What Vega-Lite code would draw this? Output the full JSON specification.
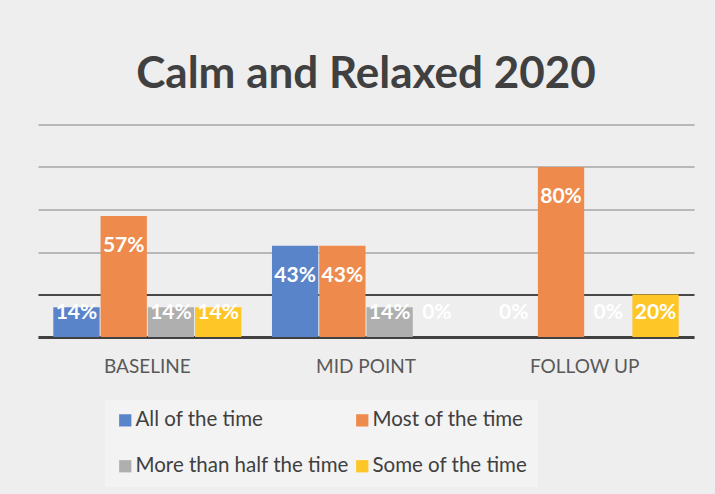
{
  "$schema": "https://vega.github.io/schema/vega-lite/v6.json",
  "width": 656,
  "height": 212.5,
  "autosize": {"type": "none"},
  "padding": {"left": 38, "top": 124.5, "right": 21, "bottom": 157},
  "background": "#eeeeee",
  "title": {
    "text": "Calm and Relaxed 2020",
    "font": "Lato",
    "fontSize": 44,
    "fontWeight": "bold",
    "color": "#404040",
    "anchor": "middle",
    "baseline": "alphabetic",
    "offset": -7
  },
  "config": {"view": {"stroke": null}},
  "data": {
    "values": [
      {"period": "BASELINE", "category": "All of the time", "value": 0.14},
      {"period": "BASELINE", "category": "Most of the time", "value": 0.57},
      {"period": "BASELINE", "category": "More than half the time", "value": 0.14},
      {"period": "BASELINE", "category": "Some of the time", "value": 0.14},
      {"period": "MID POINT", "category": "All of the time", "value": 0.43},
      {"period": "MID POINT", "category": "Most of the time", "value": 0.43},
      {"period": "MID POINT", "category": "More than half the time", "value": 0.14},
      {"period": "MID POINT", "category": "Some of the time", "value": 0},
      {"period": "FOLLOW UP", "category": "All of the time", "value": 0},
      {"period": "FOLLOW UP", "category": "Most of the time", "value": 0.8},
      {"period": "FOLLOW UP", "category": "More than half the time", "value": 0},
      {"period": "FOLLOW UP", "category": "Some of the time", "value": 0.2}
    ]
  },
  "encoding": {
    "x": {
      "field": "period",
      "type": "nominal",
      "sort": ["BASELINE", "MID POINT", "FOLLOW UP"],
      "scale": {"paddingInner": 0.14, "paddingOuter": 0.07},
      "axis": {
        "title": null,
        "labelAngle": 0,
        "labelFont": "Lato",
        "labelFontSize": 19,
        "labelColor": "#595959",
        "labelPadding": 20,
        "ticks": false,
        "tickSize": 0,
        "domainColor": "#404040",
        "domainWidth": 3
      }
    },
    "xOffset": {
      "field": "category",
      "type": "nominal",
      "sort": ["All of the time", "Most of the time", "More than half the time", "Some of the time"],
      "scale": {"paddingInner": 0.02}
    }
  },
  "layer": [
    {
      "mark": {"type": "bar"},
      "encoding": {
        "y": {
          "field": "value",
          "type": "quantitative",
          "scale": {"domain": [0, 1]},
          "axis": {
            "title": null,
            "labels": false,
            "ticks": false,
            "domain": false,
            "values": [0, 0.2, 0.4, 0.6, 0.8, 1],
            "gridWidth": 1.5,
            "gridColor": {"condition": {"test": "abs(datum.value - 0.2) < 0.01", "value": "#111111"}, "value": "#a6a6a6"}
          }
        },
        "color": {
          "field": "category",
          "type": "nominal",
          "sort": ["All of the time", "Most of the time", "More than half the time", "Some of the time"],
          "scale": {
            "domain": ["All of the time", "Most of the time", "More than half the time", "Some of the time"],
            "range": ["#5A84C9", "#EE8B4C", "#AFAFAF", "#FFC628"]
          },
          "legend": {
            "orient": "none",
            "legendX": 67,
            "legendY": 275.5,
            "direction": "horizontal",
            "columns": 2,
            "title": null,
            "symbolType": "square",
            "symbolSize": 150,
            "symbolStrokeWidth": 0,
            "labelFont": "Lato",
            "labelFontSize": 20.5,
            "labelColor": "#404040",
            "labelLimit": 400,
            "labelOffset": 0,
            "fillColor": "#f3f3f3",
            "padding": 10,
            "rowPadding": 25,
            "columnPadding": 3,
            "gridAlign": "all"
          }
        }
      }
    },
    {
      "transform": [{"calculate": "max(datum.value - 0.17, 0.085)", "as": "labelPos"}],
      "mark": {"type": "text", "color": "#ffffff", "font": "Lato", "fontWeight": "bold", "fontSize": 21, "baseline": "alphabetic"},
      "encoding": {
        "y": {"field": "labelPos", "type": "quantitative"},
        "text": {"field": "value", "type": "quantitative", "format": ".0%"}
      }
    }
  ]
}
